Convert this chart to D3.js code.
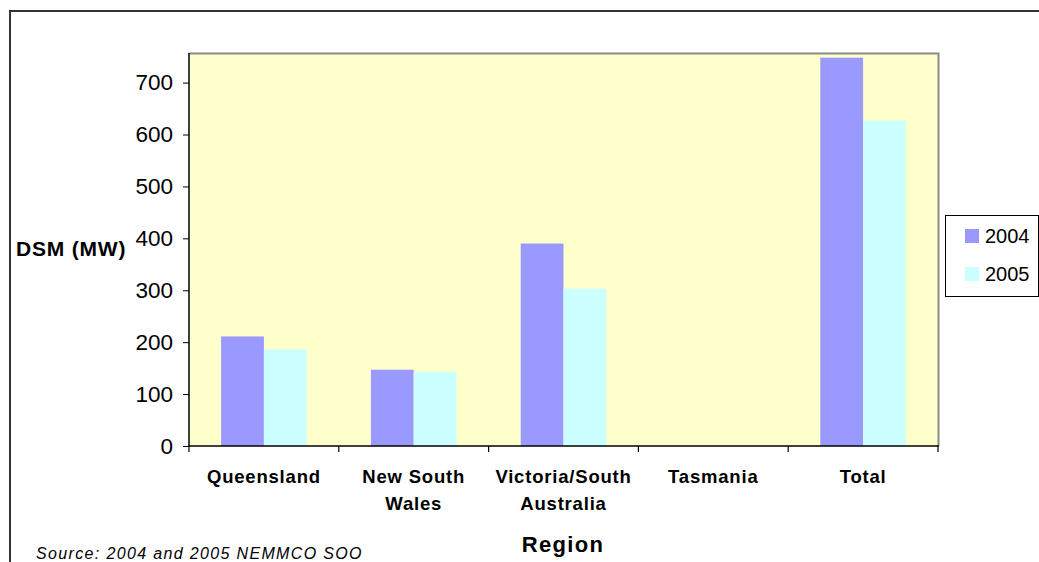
<!DOCTYPE html>
<html>
<head>
<meta charset="utf-8">
<script src="https://cdn.jsdelivr.net/npm/d3@7/dist/d3.min.js"></script>
<style>
  html, body { margin: 0; padding: 0; background: #fff; }
  svg { display: block; }
  text { font-family: Arial, "Liberation Sans", sans-serif; }
</style>
</head>
<body>
<svg id="chart" width="1039" height="562"></svg>
<script>
const categories = [["Queensland"], ["New South", "Wales"], ["Victoria/South", "Australia"], ["Tasmania"], ["Total"]];
const seriesNames = ["2004", "2005"];
const values2004 = [211, 147, 390, 0, 748];
const values2005 = [186, 143, 303, 0, 627];
const yTicks = [0, 100, 200, 300, 400, 500, 600, 700];
const colors = ["#9999FF", "#CCFFFF"];

const svg = d3.select("#chart");
const W = 1039, H = 562;
const plot = { left: 189, right: 938, top: 53, bottom: 446 };

// outer border (extends past the picture's right and bottom edges)
svg.append("rect")
  .attr("x", 10).attr("y", 11)
  .attr("width", W + 20).attr("height", H + 20)
  .attr("fill", "#fff").attr("stroke", "#333").attr("stroke-width", 2);

const catKeys = categories.map(c => c.join(" "));
const x0 = d3.scaleBand().domain(catKeys).range([plot.left, plot.right]).padding(0);
const x1 = d3.scaleBand().domain(seriesNames).range([0, x0.bandwidth()]).paddingInner(0).paddingOuter(0.75);
const y = d3.scaleLinear().domain([0, 757]).range([plot.bottom, plot.top]);

// plot background
svg.append("rect")
  .attr("x", plot.left).attr("y", plot.top)
  .attr("width", plot.right - plot.left).attr("height", plot.bottom - plot.top)
  .attr("fill", "#FFFFCC");

// bars
const data = catKeys.map((k, i) => ({ key: k, vals: [values2004[i], values2005[i]] }));
const groups = svg.append("g").selectAll("g").data(data).join("g")
  .attr("transform", d => `translate(${x0(d.key)},0)`);
groups.selectAll("rect").data(d => d.vals.map((v, j) => ({ s: seriesNames[j], v, j })))
  .join("rect")
  .attr("x", d => x1(d.s))
  .attr("width", x1.bandwidth())
  .attr("y", d => y(d.v))
  .attr("height", d => plot.bottom - y(d.v))
  .attr("fill", d => colors[d.j]);

// gray plot border top & right
svg.append("path")
  .attr("d", `M${plot.left},${plot.top + 0.5}H${plot.right + 0.5}V${plot.bottom}`)
  .attr("fill", "none").attr("stroke", "#8c8c8c").attr("stroke-width", 2);

// y axis
const yAxis = d3.axisLeft(y).tickValues(yTicks).tickSize(6).tickPadding(10);
const gy = svg.append("g").attr("transform", `translate(${plot.left},0)`).call(yAxis);
gy.select(".domain").attr("d", `M0,${plot.top}V${plot.bottom}`).attr("stroke", "#000").attr("stroke-width", 1.5);
gy.selectAll(".tick line").attr("stroke", "#000");
gy.selectAll(".tick text").attr("font-size", 22.5).attr("fill", "#000")
  .attr("font-family", "Arial, 'Liberation Sans', sans-serif");

// x axis
const gx = svg.append("g").attr("transform", `translate(0,${plot.bottom})`);
gx.append("line").attr("x1", plot.left).attr("x2", plot.right + 1).attr("y1", 0).attr("y2", 0)
  .attr("stroke", "#000").attr("stroke-width", 1.5);
const boundaries = catKeys.map(k => x0(k)).concat([x0(catKeys[catKeys.length - 1]) + x0.bandwidth()]);
gx.selectAll("line.tk").data(boundaries).join("line").attr("class", "tk")
  .attr("x1", d => d).attr("x2", d => d).attr("y1", 0).attr("y2", 6)
  .attr("stroke", "#000").attr("stroke-width", 1.2);
gx.selectAll("text.cat").data(categories).join("text").attr("class", "cat")
  .attr("text-anchor", "middle")
  .attr("font-size", 18.5).attr("font-weight", "bold").attr("letter-spacing", 0.8)
  .attr("transform", (d, i) => `translate(${x0(catKeys[i]) + x0.bandwidth() / 2},0)`)
  .each(function (d) {
    d3.select(this).selectAll("tspan").data(d).join("tspan")
      .attr("x", 0).attr("y", (t, i) => 37 + i * 27).text(t => t);
  });

// axis titles
svg.append("text").attr("x", 16).attr("y", 256)
  .attr("font-size", 21).attr("font-weight", "bold").attr("letter-spacing", 0.8)
  .text("DSM (MW)");
svg.append("text").attr("x", 563).attr("y", 552).attr("text-anchor", "middle")
  .attr("font-size", 22).attr("font-weight", "bold").attr("letter-spacing", 1.3)
  .text("Region");

// source
svg.append("text").attr("x", 36).attr("y", 559)
  .attr("font-size", 16).attr("font-style", "italic").attr("letter-spacing", 1.35)
  .text("Source: 2004 and 2005 NEMMCO SOO");

// legend
const lg = svg.append("g");
lg.append("rect").attr("x", 945.5).attr("y", 215.5).attr("width", 93).attr("height", 81)
  .attr("fill", "#fff").attr("stroke", "#000").attr("stroke-width", 1);
const items = lg.selectAll("g.item").data(seriesNames).join("g").attr("class", "item")
  .attr("transform", (d, i) => `translate(965,${229 + i * 38})`);
items.append("rect").attr("width", 14).attr("height", 14).attr("fill", (d, i) => colors[i]);
items.append("text").attr("x", 20).attr("y", 13.5).attr("font-size", 20).text(d => d);
</script>
</body>
</html>
